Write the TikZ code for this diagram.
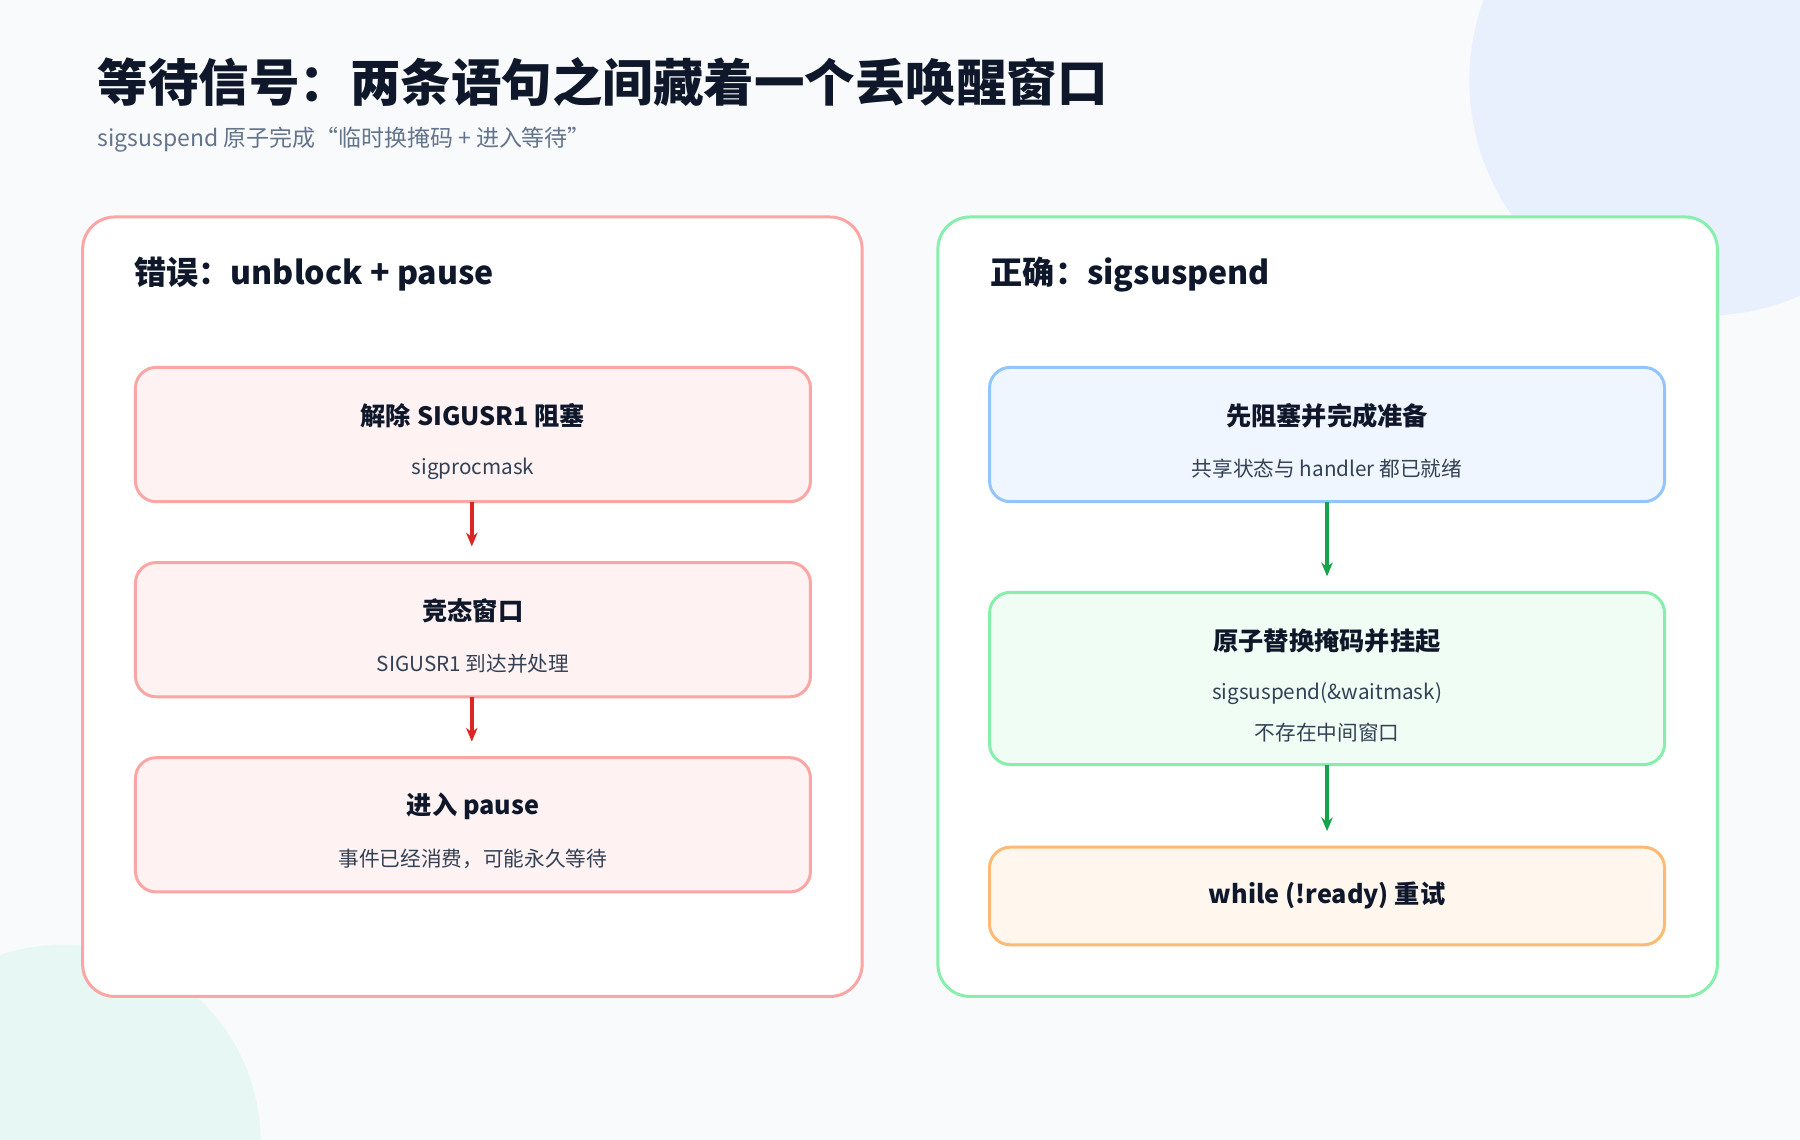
\documentclass[tikz,border=0pt]{standalone}
\usepackage{fontspec}
\setmainfont{Noto Sans CJK SC}
\usetikzlibrary{arrows.meta}
\definecolor{bg}{HTML}{F8FAFC}
\definecolor{ink}{HTML}{0F172A}
\definecolor{sub}{HTML}{64748B}
\definecolor{txt}{HTML}{334155}
\definecolor{cb}{HTML}{E8F0FD}
\definecolor{ct}{HTML}{E6F7F4}
\tikzset{
 panel/.style={draw=#1,line width=1.3pt,fill=white,rounded corners=14pt},
 box/.style 2 args={draw=#1,fill=#2,line width=1.3pt,rounded corners=9pt},
 ttl/.style={font=\bfseries\fontsize{11}{13}\selectfont,text=ink},
 st/.style={font=\fontsize{9}{11}\selectfont,text=txt},
 arr/.style={draw=#1,line width=1.5pt,-{Stealth[length=6pt,width=5pt]}},
}
\begin{document}
\begin{tikzpicture}[x=0.5pt,y=-0.5pt]
\useasboundingbox (0,0) rectangle (1568,993);
\fill[bg] (0,0) rectangle (1568,993);
\begin{scope}
\clip (0,0) rectangle (1568,993);
\fill[cb] (1485,70) circle (205);
\fill[ct] (55,995) circle (172);
\end{scope}
\node[anchor=base west,font=\bfseries\fontsize{22}{26}\selectfont,text=ink] (title) at (78,88) {等待信号：两条语句之间藏着一个丢唤醒窗口};
\node[anchor=base west,font=\fontsize{10}{12}\selectfont,text=sub] (subt) at (78,128) {sigsuspend 原子完成“临时换掩码 + 进入等待”};
% left
\definecolor{rb}{HTML}{FCA5A5}\definecolor{rf}{HTML}{FEF2F2}
\draw[panel=rb] (72,189) rectangle (751,868);
\node[anchor=base west,font=\bfseries\fontsize{14}{16}\selectfont,text=ink] (lh) at (110,248) {错误：unblock + pause};
\draw[box={rb}{rf}] (118,320) rectangle (706,437);
\node[ttl] (l1) at (412,362) {解除 SIGUSR1 阻塞};
\node[st] (l1s) at (412,408) {sigprocmask};
\draw[box={rb}{rf}] (118,490) rectangle (706,607);
\node[ttl] (l2) at (412,532) {竞态窗口};
\node[st] (l2s) at (412,578) {SIGUSR1 到达并处理};
\draw[box={rb}{rf}] (118,660) rectangle (706,777);
\node[ttl] (l3) at (412,702) {进入 pause};
\node[st] (l3s) at (412,748) {事件已经消费，可能永久等待};
\coordinate (a1) at (411,437); \coordinate (a2) at (411,476);
\coordinate (a3) at (411,607); \coordinate (a4) at (411,646);
\definecolor{rd}{HTML}{DC2626}
\draw[arr=rd] (a1) -- (a2);
\draw[arr=rd] (a3) -- (a4);
% right
\definecolor{gb}{HTML}{86EFAC}\definecolor{gf}{HTML}{F0FDF4}
\definecolor{bb}{HTML}{93C5FD}\definecolor{bf}{HTML}{EFF6FF}
\definecolor{ob}{HTML}{FDBA74}\definecolor{of}{HTML}{FFF7ED}
\draw[panel=gb] (817,189) rectangle (1496,868);
\node[anchor=base west,font=\bfseries\fontsize{14}{16}\selectfont,text=ink] (rh) at (856,248) {正确：sigsuspend};
\draw[box={bb}{bf}] (862,320) rectangle (1450,437);
\node[ttl] (r1) at (1156,362) {先阻塞并完成准备};
\node[st] (r1s) at (1156,408) {共享状态与 handler 都已就绪};
\draw[box={gb}{gf}] (862,516) rectangle (1450,666);
\node[ttl] (r2) at (1156,558) {原子替换掩码并挂起};
\node[st] (r2s) at (1156,604) {sigsuspend(\&waitmask)};
\node[st] (r2t) at (1156,638) {不存在中间窗口};
\draw[box={ob}{of}] (862,738) rectangle (1450,823);
\node[ttl] (r3) at (1156,780) {while (!ready) 重试};
\coordinate (b1) at (1156,437); \coordinate (b2) at (1156,502);
\coordinate (b3) at (1156,666); \coordinate (b4) at (1156,724);
\definecolor{grn}{HTML}{16A34A}
\draw[arr=grn] (b1) -- (b2);
\draw[arr=grn] (b3) -- (b4);
\end{tikzpicture}
\end{document}
